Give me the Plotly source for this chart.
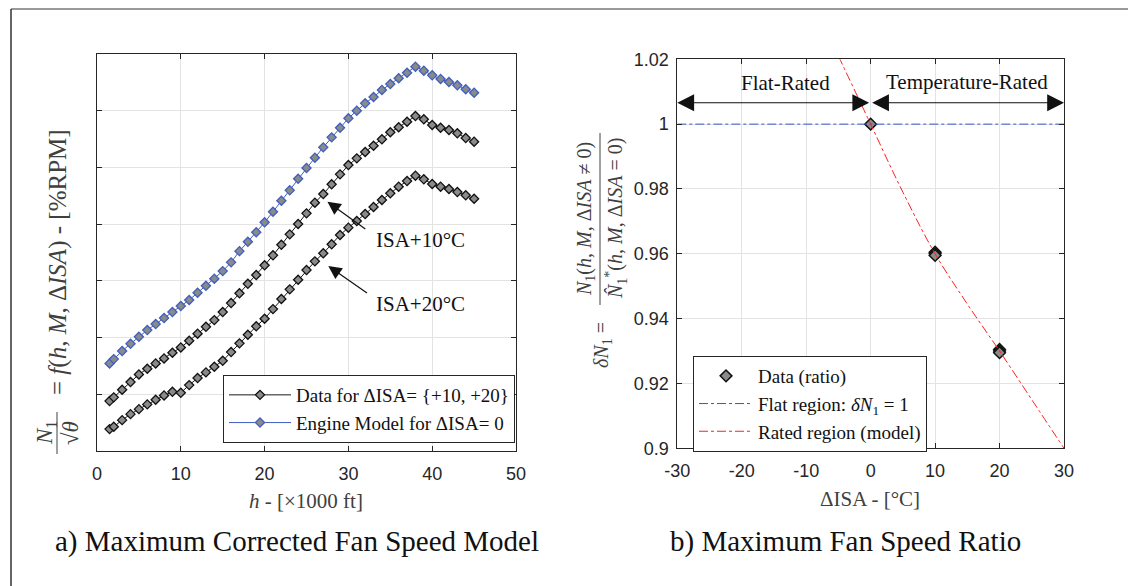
import plotly.graph_objects as go

# ---------------- data: left panel ----------------
altitude_kft = [1.5, 2, 3, 4, 5, 6, 7, 8, 9, 10, 11, 12, 13, 14, 15, 16, 17, 18, 19, 20,
                21, 22, 23, 24, 25, 26, 27, 28, 29, 30, 31, 32, 33, 34, 35, 36, 37, 38,
                39, 40, 41, 42, 43, 44, 45]
n1_model_isa0 = [72.72, 73.10, 73.81, 74.45, 75.07, 75.66, 76.19, 76.72, 77.25, 77.78,
                 78.31, 78.95, 79.57, 80.19, 80.86, 81.63, 82.62, 83.45, 84.28, 85.16,
                 86.09, 87.06, 87.98, 89.00, 89.95, 90.86, 91.77, 92.65, 93.50, 94.33,
                 95.00, 95.65, 96.21, 96.83, 97.35, 97.86, 98.35, 98.88, 98.53, 98.12,
                 97.80, 97.53, 97.24, 96.89, 96.59]
n1_data_isa10 = [69.40, 69.73, 70.40, 71.08, 71.75, 72.25, 72.72, 73.16, 73.66, 74.13,
                 74.72, 75.34, 75.95, 76.54, 77.25, 78.04, 78.90, 79.74, 80.51, 81.37,
                 82.25, 83.18, 84.10, 85.01, 85.95, 86.89, 87.65, 88.51, 89.39, 90.21,
                 90.80, 91.36, 91.91, 92.48, 93.10, 93.54, 94.03, 94.53, 94.24, 93.74,
                 93.50, 93.30, 93.01, 92.59, 92.27]
n1_data_isa20 = [66.93, 67.14, 67.72, 68.25, 68.69, 69.11, 69.52, 69.90, 70.22, 70.13,
                 70.81, 71.43, 71.93, 72.43, 72.95, 73.72, 74.49, 75.25, 75.99, 76.66,
                 77.51, 78.40, 79.25, 80.10, 80.95, 81.72, 82.43, 83.22, 84.04, 84.69,
                 85.27, 85.89, 86.51, 87.13, 87.72, 88.30, 88.80, 89.27, 88.95, 88.54,
                 88.30, 88.10, 87.83, 87.54, 87.24]

# ---------------- data: right panel ----------------
ratio_disa = [0, 10, 10, 10, 20, 20, 20]
ratio_vals = [1.0, 0.9605, 0.9600, 0.9595, 0.9305, 0.9300, 0.9295]
flat_disa = [-30, 30]
flat_vals = [1.0, 1.0]
model_disa = [-5, 0, 5, 10, 15, 20, 25, 30]
model_vals = [1.021, 1.0, 0.979, 0.960, 0.9445, 0.930, 0.915, 0.900]

left_xticks = [0, 10, 20, 30, 40, 50]
left_yticks = [70, 75, 80, 85, 90, 95]
right_xticks = [-30, -20, -10, 0, 10, 20, 30]
right_xtext = ["-30", "-20", "-10", "0", "10", "20", "30"]
right_yticks = [0.90, 0.92, 0.94, 0.96, 0.98, 1.00, 1.02]
right_ytext = ["0.9", "0.92", "0.94", "0.96", "0.98", "1", "1.02"]

W, H = 1128, 586
def px(x):
    return x / W
def py(y):
    return 1 - y / H

SERIF = "Liberation Serif"
SANS = "Liberation Sans"
TICKC = "#262626"
BLUE = "#3f5fbf"
GREYFILL = "#8a8a8a"

fig = go.Figure()

mk = dict(symbol="diamond", size=7, color=GREYFILL)
fig.add_trace(go.Scatter(
    x=altitude_kft, y=n1_data_isa10, mode="lines+markers",
    name="Data for ΔISA= {+10, +20}", legend="legend",
    line=dict(color="#1a1a1a", width=1),
    marker=dict(**mk, line=dict(color="#111", width=1.3)),
    xaxis="x", yaxis="y"))
fig.add_trace(go.Scatter(
    x=altitude_kft, y=n1_data_isa20, mode="lines+markers",
    name="Data ISA+20", showlegend=False, legend="legend",
    line=dict(color="#1a1a1a", width=1),
    marker=dict(**mk, line=dict(color="#111", width=1.3)),
    xaxis="x", yaxis="y"))
fig.add_trace(go.Scatter(
    x=altitude_kft, y=n1_model_isa0, mode="lines+markers",
    name="Engine Model for ΔISA= 0", legend="legend",
    line=dict(color=BLUE, width=1),
    marker=dict(**mk, line=dict(color=BLUE, width=1.3)),
    xaxis="x", yaxis="y"))

fig.add_trace(go.Scatter(
    x=ratio_disa, y=ratio_vals, mode="markers", name="Data (ratio)", legend="legend2",
    marker=dict(symbol="diamond", size=9, color=GREYFILL, line=dict(color="#111", width=1.5)),
    xaxis="x2", yaxis="y2"))
fig.add_trace(go.Scatter(
    x=flat_disa, y=flat_vals, mode="lines", name="Flat region: <i>δN</i><sub>1</sub> = 1",
    legend="legend2", line=dict(color="#3355cc", width=1, dash="dashdot"),
    xaxis="x2", yaxis="y2"))
fig.add_trace(go.Scatter(
    x=model_disa, y=model_vals, mode="lines", name="Rated region (model)",
    legend="legend2", line=dict(color="#ff2020", width=1, dash="dashdot", shape="spline"),
    xaxis="x2", yaxis="y2"))

axis_common = dict(showline=True, linecolor=TICKC, linewidth=1, mirror="ticks",
                   ticks="inside", ticklen=5, tickcolor=TICKC, showgrid=True,
                   gridcolor="#e3e3e3", gridwidth=1, zeroline=False, automargin=False,
                   tickfont=dict(family=SANS, size=18, color=TICKC))

fig.update_layout(
    width=W, height=H, margin=dict(l=0, r=0, t=0, b=0, pad=0),
    paper_bgcolor="white", plot_bgcolor="white", showlegend=True,
    xaxis=dict(domain=[px(97), px(516)], range=[0, 50], tickvals=left_xticks,
               anchor="y", ticklabelstandoff=6, **axis_common),
    yaxis=dict(domain=[py(451), py(54)], range=[65, 100], tickvals=left_yticks,
               showticklabels=False, anchor="x", **axis_common),
    xaxis2=dict(domain=[px(677.3), px(1064)], range=[-30, 30], tickvals=right_xticks,
                ticktext=right_xtext, anchor="y2", ticklabelstandoff=6, **axis_common),
    yaxis2=dict(domain=[py(448.3), py(59.3)], range=[0.9, 1.02], tickvals=right_yticks,
                ticktext=right_ytext, anchor="x2", ticklabelstandoff=4, **axis_common),
    legend=dict(x=px(515), xanchor="right", y=py(443), yanchor="bottom",
                bgcolor="white", bordercolor=TICKC, borderwidth=1,
                font=dict(family=SERIF, size=19, color="#111"), tracegroupgap=0,
                itemwidth=62),
    legend2=dict(x=px(693), xanchor="left", y=py(356), yanchor="top",
                 bgcolor="white", bordercolor=TICKC, borderwidth=1,
                 font=dict(family=SERIF, size=19, color="#111"), tracegroupgap=0,
                 itemwidth=54),
)

ann = []
for (hx, hy, tx, ty, lx, ly, txt) in [
        (27.5, 86.98, 32.2, 84.48, 38.6, 83.6, "ISA+10°C"),
        (27.6, 81.30, 32.4, 78.84, 38.6, 77.95, "ISA+20°C")]:
    ann.append(dict(x=hx, y=hy, ax=tx, ay=ty, xref="x", yref="y", axref="x", ayref="y",
                    showarrow=True, arrowhead=2, arrowsize=2.2, arrowwidth=1.2,
                    arrowcolor="#111", text="", standoff=0))
    ann.append(dict(x=lx, y=ly, xref="x", yref="y", text=txt, showarrow=False,
                    xanchor="center", yanchor="middle",
                    font=dict(family=SERIF, size=21, color="#111")))

for (hx, tx) in [(-30, 0), (30, 0)]:
    ann.append(dict(x=hx, y=1.0066, ax=tx, ay=1.0066, xref="x2", yref="y2",
                    axref="x2", ayref="y2", showarrow=True, arrowhead=2,
                    arrowside="end+start", arrowsize=2.8, arrowwidth=1.2,
                    arrowcolor="#111", text="", standoff=0, startstandoff=0))
ann.append(dict(x=-13.2, y=1.0127, xref="x2", yref="y2", text="Flat-Rated",
                showarrow=False, xanchor="center", yanchor="middle",
                font=dict(family=SERIF, size=21, color="#111")))
ann.append(dict(x=14.9, y=1.0129, xref="x2", yref="y2", text="Temperature-Rated",
                showarrow=False, xanchor="center", yanchor="middle",
                font=dict(family=SERIF, size=21, color="#111")))

LABC = "#404040"
def pann(x, y, text, size, color=LABC, angle=0):
    return dict(x=px(x), y=py(y), xref="paper", yref="paper", text=text,
                showarrow=False, xanchor="center", yanchor="middle", textangle=angle,
                font=dict(family=SERIF, size=size, color=color))

# left y-axis label (fraction built from pieces)
ann.append(pann(58, 262, "= <i>f</i>(<i>h</i>, <i>M</i>, Δ<i>ISA</i>) - [%RPM]", 25, angle=-90))
ann.append(pann(46, 433, "<i>N</i><sub>1</sub>", 23, angle=-90))
ann.append(pann(70, 433, "√<i>θ</i>", 23, angle=-90))
# left x-axis label
ann.append(pann(306, 501, "<i>h</i> - [×1000 ft]", 21))
# right y-axis label
ann.append(pann(602, 345, "<i>δN</i><sub>1</sub> =", 20, angle=-90))
ann.append(pann(585, 219, "<i>N</i><sub>1</sub>(<i>h</i>, <i>M</i>, Δ<i>ISA</i> ≠ 0)", 20, angle=-90))
ann.append(pann(616, 219, "<i>N\u0302</i><sub>1</sub><sup>*</sup>(<i>h</i>, <i>M</i>, Δ<i>ISA</i> = 0)", 20, angle=-90))
# right x-axis label
ann.append(pann(870, 499, "ΔISA - [°C]", 21))
# captions
ann.append(pann(297, 541, "a) Maximum Corrected Fan Speed Model", 29, color="#111"))
ann.append(pann(845, 541, "b) Maximum Fan Speed Ratio", 29, color="#111"))
fig.update_layout(annotations=ann)

shapes = [
    dict(type="line", xref="paper", yref="paper", x0=px(57), x1=px(57), y0=py(412), y1=py(454),
         line=dict(color=LABC, width=1)),
    dict(type="line", xref="paper", yref="paper", x0=px(600), x1=px(600), y0=py(133), y1=py(305),
         line=dict(color=LABC, width=1)),
    dict(type="line", xref="paper", yref="paper", x0=px(11), x1=1, y0=py(9), y1=py(9),
         line=dict(color="#777", width=1.5)),
    dict(type="line", xref="paper", yref="paper", x0=px(11), x1=px(11), y0=py(9), y1=0,
         line=dict(color="#333", width=1.5)),
]
fig.update_layout(shapes=shapes)

fig.write_html("out.html")
